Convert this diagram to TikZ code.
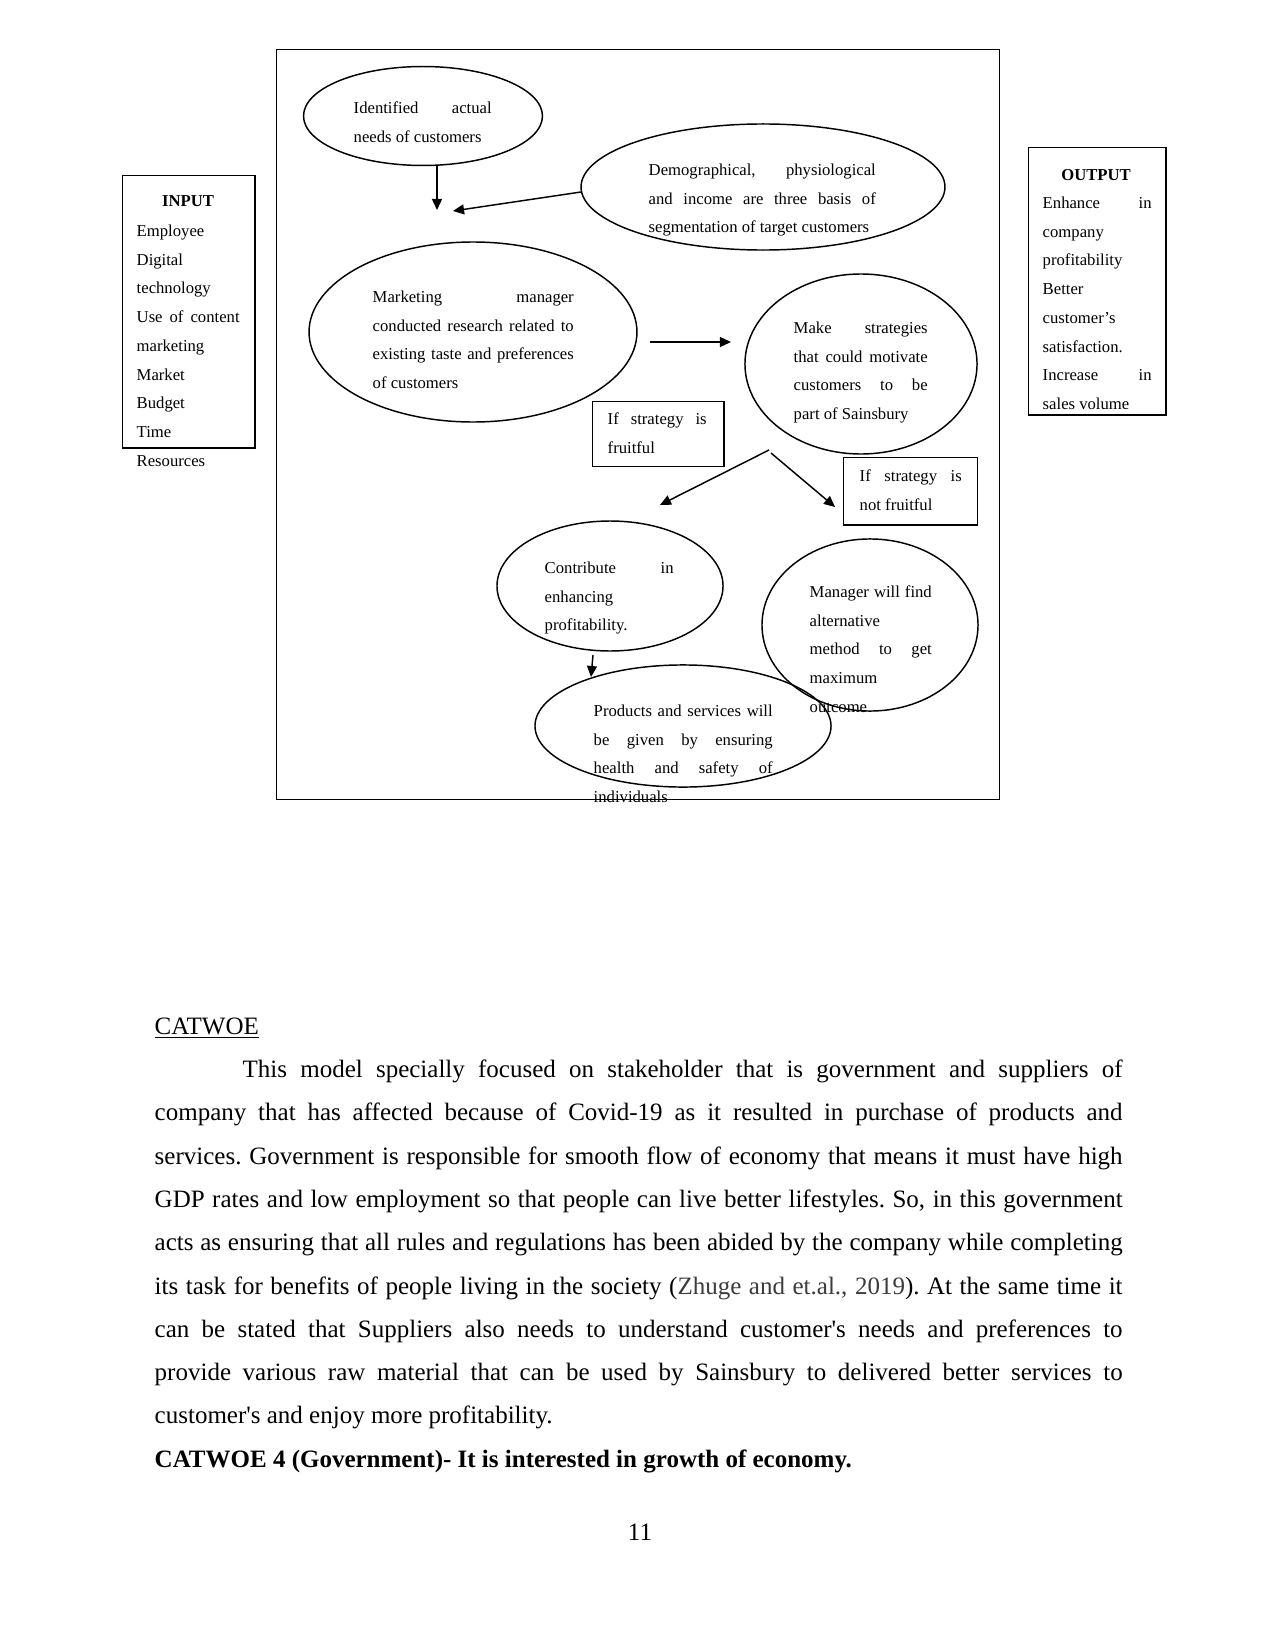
\documentclass[tikz,border=0pt]{standalone}
\usepackage{fontspec}
\setmainfont{Liberation Serif}
\newfontfamily\plainserif{Liberation Serif}
\usetikzlibrary{arrows.meta,shapes.geometric}
\definecolor{citegray}{RGB}{60,60,60}
\frenchspacing
\tikzset{
  oval/.style={draw,ellipse,inner sep=0pt},
  box/.style={draw,anchor=north west,inner sep=0pt},
  txt/.style={anchor=north west,inner sep=0pt,align=justify,
    font=\fontsize{8}{13.8}\selectfont,
    execute at begin node={\tolerance=10000\hyphenpenalty=10000\frenchspacing}},
  head/.style={font=\fontsize{8}{13.8}\selectfont\bfseries,inner sep=0pt},
}
\begin{document}
\begin{tikzpicture}[x=0.48pt,y=-0.48pt,>={Triangle[length=5.3pt,width=4.8pt]},line width=0.7pt]
  \fill[white] (0,0) rectangle (1275,1651);
  \useasboundingbox (0,0) rectangle (1275,1651);

  % frame and side boxes
  \node[box,minimum width=347pt,minimum height=360pt] (frame) at (276,49) {};
  \node[box,minimum width=63.4pt,minimum height=130.6pt] (inbox) at (122,175) {};
  \node[box,minimum width=65.8pt,minimum height=128.2pt] (outbox) at (1028,147) {};
  \node[box,minimum width=62.9pt,minimum height=31.2pt] (fruit) at (592,401) {};
  \node[box,minimum width=64.3pt,minimum height=32.2pt] (nofruit) at (843,457) {};

  % ellipses
  \node[oval,minimum width=114.7pt,minimum height=47.5pt] (needs) at (423,116) {};
  \node[oval,minimum width=174.7pt,minimum height=60.5pt] (segm) at (763,187) {};
  \node[oval,minimum width=157.4pt,minimum height=86.4pt] (research) at (473,332) {};
  \node[oval,minimum width=111.4pt,minimum height=86.4pt] (strat) at (861,364) {};
  \node[oval,minimum width=108.5pt,minimum height=62.4pt] (profit) at (610,586) {};
  \node[oval,minimum width=103.7pt,minimum height=82.6pt] (altern) at (870,625) {};
  \node[oval,minimum width=142.1pt,minimum height=58.6pt] (safety) at (683,726) {};

  % texts
  \node[head] (intitle) at (188,201) {INPUT};
  \node[txt,text width=49.4pt] (inlist) at (136,224) {Employee\newline Digital\newline technology\newline
    Use of content\linebreak marketing\newline Market\newline Budget\newline Time\newline Resources};
  \node[head] (outtitle) at (1096,175) {OUTPUT};
  \node[txt,text width=52.3pt] (outlist) at (1042,196) {Enhance in\linebreak company\newline profitability\newline
    Better\newline customer’s\newline satisfaction.\newline Increase in\linebreak sales volume};

  \node[txt,text width=66.2pt] (needst) at (353,101) {Identified actual\linebreak needs of customers};
  \node[txt,text width=109pt] (segmt) at (648,163) {Demographical, physiological\linebreak
    and income are three basis of\linebreak segmentation of target customers};
  \node[txt,text width=96.5pt] (researcht) at (372,290) {Marketing manager\linebreak
    conducted research related to\linebreak existing taste and preferences\linebreak of customers};
  \node[txt,text width=64.3pt] (stratt) at (793,321) {Make strategies\linebreak
    that could motivate\linebreak customers to be\linebreak part of Sainsbury};
  \node[txt,text width=47.5pt] (fruitt) at (607,412) {If strategy is\linebreak fruitful};
  \node[txt,text width=49pt] (nofruitt) at (859,469) {If strategy is\linebreak not fruitful};
  \node[txt,text width=61.9pt] (profitt) at (544,561) {Contribute in\linebreak enhancing\newline profitability.};
  \node[txt,text width=58.6pt] (alternt) at (809,585) {Manager will find\linebreak
    alternative\newline method to get\linebreak maximum\newline outcome};
  \node[txt,text width=85.9pt] (safetyt) at (593,704) {Products and services will\linebreak
    be given by ensuring\linebreak health and safety of\linebreak individuals};

  % arrows
  \coordinate (a1) at (437,165);  \coordinate (b1) at (437,210);
  \coordinate (a2) at (581,192);  \coordinate (b2) at (453,211);
  \coordinate (a3) at (650,342);  \coordinate (b3) at (731,342);
  \coordinate (a4) at (769,450);  \coordinate (b4) at (660,505);
  \coordinate (a5) at (771,453);  \coordinate (b5) at (835,507);
  \coordinate (a6) at (593,655);  \coordinate (b6) at (591,677);
  \draw[->] (a1) -- (b1);
  \draw[->] (a2) -- (b2);
  \draw[->] (a3) -- (b3);
  \draw[->] (a4) -- (b4);
  \draw[->] (a5) -- (b5);
  \draw[->] (a6) -- (b6);

  % page text
  \node[anchor=north west,inner sep=0pt,text width=464.6pt,align=justify,
    font=\plainserif\fontsize{12}{20.78}\selectfont,
    execute at begin node={\tolerance=10000\hyphenpenalty=10000\frenchspacing}] (body) at (154,1017) {%
    \underline{CATWOE}\newline
    \hspace*{42.2pt}This model specially focused on stakeholder that is government and suppliers of\linebreak
    company that has affected because of Covid-19 as it resulted in purchase of products and\linebreak
    services. Government is responsible for smooth flow of economy that means it must have high\linebreak
    GDP rates and low employment so that people can live better lifestyles. So, in this government\linebreak
    acts as ensuring that all rules and regulations has been abided by the company while completing\linebreak
    its task for benefits of people living in the society ({\color{citegray}Zhuge and et.al., 2019}). At the same time it\linebreak
    can be stated that Suppliers also needs to understand customer's needs and preferences to\linebreak
    provide various raw material that can be used by Sainsbury to delivered better services to\linebreak
    customer's and enjoy more profitability.\newline
    \textbf{CATWOE 4 (Government)- It is interested in growth of economy.}};
  \node[font=\plainserif\fontsize{12}{14}\selectfont] (pagenum) at (640,1532) {11};
\end{tikzpicture}
\end{document}
